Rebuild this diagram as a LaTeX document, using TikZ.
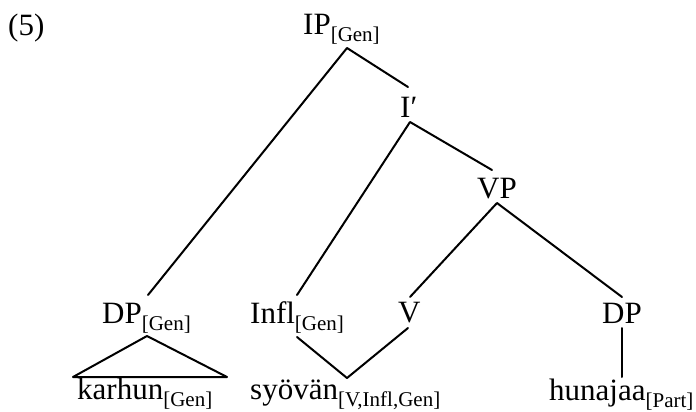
\documentclass[tikz,border=0pt]{standalone}
\usepackage{fontspec}
\setmainfont{Liberation Serif}
\newcommand\lsub[1]{\raisebox{-7pt}{\fontsize{21}{21}\selectfont #1}}
\begin{document}
\begin{tikzpicture}[x=1pt,y=-1pt,
  lbl/.style={anchor=base west,inner sep=0pt,font=\fontsize{31}{36}\selectfont},
  branch/.style={line width=2pt,line cap=round,line join=round}]
\useasboundingbox (0,0) rectangle (696,412);

% example number
\node[lbl] (num) at (8,36) {(5)};

% category labels
\node[lbl] (ip)   at (303,35)  {IP\lsub{[Gen]}};
\node[lbl] (ibar) at (400,117) {I′};
\node[lbl] (vp)   at (477,198) {VP};
\node[lbl] (dpg)  at (102,323) {DP\lsub{[Gen]}};
\node[lbl] (infl) at (250,323) {Infl\lsub{[Gen]}};
\node[lbl] (v)    at (398,322) {V};
\node[lbl] (dp)   at (602,323) {DP};

% terminals
\node[lbl] (karhun)  at (77,399)  {karhun\lsub{[Gen]}};
\node[lbl] (syovan)  at (250,399) {syövän\lsub{[V,Infl,Gen]}};
\node[lbl] (hunajaa) at (549,400) {hunajaa\lsub{[Part]}};

% attachment points of the branches
\coordinate (ip-b)   at (347,48);
\coordinate (dpg-t)  at (148,295);
\coordinate (ibar-t) at (408,87);
\coordinate (ibar-b) at (410,122);
\coordinate (infl-t) at (297,295);
\coordinate (vp-t)   at (492,170);
\coordinate (vp-b)   at (497,203);
\coordinate (v-t)    at (410,297);
\coordinate (dp-t)   at (622,297);
\coordinate (dpg-b)  at (147,336);
\coordinate (tri-l)  at (73,377);
\coordinate (tri-r)  at (227,377);
\coordinate (infl-b) at (297,337);
\coordinate (v-b)    at (408,328);
\coordinate (syo-t)  at (347,378);
\coordinate (dp-b)   at (622,328);
\coordinate (hun-t)  at (622,377);

% branches
\draw[branch] (dpg-t) -- (ip-b) -- (ibar-t);
\draw[branch] (infl-t) -- (ibar-b) -- (vp-t);
\draw[branch] (v-t) -- (vp-b) -- (dp-t);
\draw[branch] (tri-l) -- (dpg-b) -- (tri-r) -- cycle;
\draw[branch] (infl-b) -- (syo-t) -- (v-b);
\draw[branch] (dp-b) -- (hun-t);
\end{tikzpicture}
\end{document}
